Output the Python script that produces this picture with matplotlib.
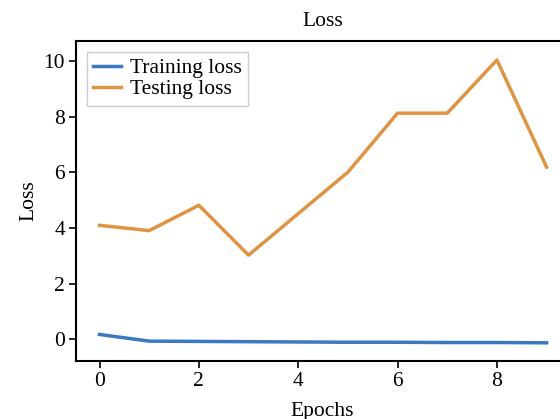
import matplotlib
matplotlib.use("Agg")
import matplotlib.pyplot as plt

epochs = list(range(10))
train_loss = [0.18, -0.06, -0.07, -0.08, -0.09, -0.10, -0.10, -0.11, -0.11, -0.12]
test_loss = [4.10, 3.91, 4.82, 3.03, 4.52, 6.01, 8.13, 8.13, 10.04, 6.19]

plt.rcParams['font.family'] = ['Liberation Serif', 'DejaVu Serif']
plt.rcParams['mathtext.fontset'] = 'stix'

fs = 15.5
fig = plt.figure(figsize=(5.6, 4.19), dpi=100)
ax = fig.add_axes([0.136, 0.138, 0.88, 0.764])
ax.plot(epochs, train_loss, color='#3a78c2', lw=2.5, label='Training loss')
ax.plot(epochs, test_loss, color='#df9444', lw=2.5, label='Testing loss')
ax.set_xlim(-0.47, 9.45)
ax.set_ylim(-0.78, 10.72)
ax.set_xticks([0, 2, 4, 6, 8])
ax.set_yticks([0, 2, 4, 6, 8, 10])
ax.tick_params(labelsize=fs, width=1.2, length=5, pad=3)
for s in ax.spines.values():
    s.set_linewidth(1.5)
ax.set_title('Loss', fontsize=fs, pad=11)
ax.set_xlabel('Epochs', fontsize=fs, labelpad=8)
ax.set_ylabel('Loss', fontsize=fs, labelpad=4)
leg = ax.legend(loc='upper left', fontsize=fs, fancybox=False, framealpha=1,
                edgecolor='#cccccc', handlelength=1.3, borderpad=0.3, labelspacing=0.05,
                handletextpad=0.4, borderaxespad=0.5)
fig.savefig('out.png', dpi=100)
